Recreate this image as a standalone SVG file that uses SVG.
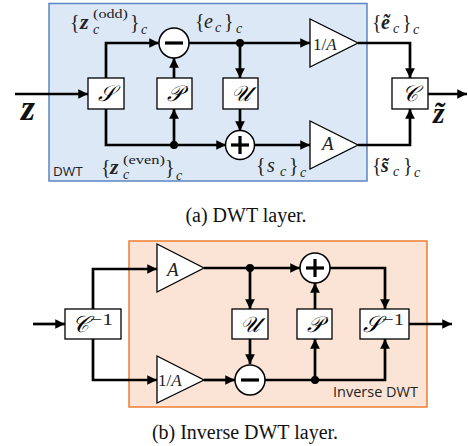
<svg xmlns="http://www.w3.org/2000/svg" width="468" height="446" viewBox="0 0 468 446">
<defs>
<marker id="ah" viewBox="0 0 10 10" refX="10" refY="5" markerWidth="3.6" markerHeight="3.6" orient="auto" markerUnits="strokeWidth">
<path d="M0,0 L10,5 L0,10 z" fill="#000"/>
</marker>
<style>
.w{fill:none;stroke:#000;stroke-width:2.7}
.a{marker-end:url(#ah)}
.box{fill:#fff;stroke:#000;stroke-width:1.3}
.tri{fill:#fff;stroke:#000;stroke-width:1.3}
.cir{fill:#fff;stroke:#000;stroke-width:1.5}
.bar{stroke:#000;stroke-width:3.2}
.dot{fill:#000}
.m{font-family:"Liberation Serif","DejaVu Serif",serif;fill:#222}
.L{font-size:20px}
.sm{font-size:14px}
.sp{font-size:13px}
.mi{font-style:italic}
.b{font-weight:bold;font-style:italic}
.cal{font-family:"DejaVu Serif","Liberation Serif",serif;font-style:italic;font-size:22px;text-anchor:middle}
.sans{font-family:"Open Sans","Liberation Sans",sans-serif;fill:#222}
.cap{font-family:"Liberation Serif",serif;font-size:20px;text-anchor:middle;fill:#111}
</style>
</defs>

<!-- panel backgrounds -->
<rect id="dwt-panel" x="49" y="3.5" width="318" height="177.5" fill="#dce8f5" stroke="#5a86c5" stroke-width="1.5"/>
<rect id="idwt-panel" x="129" y="241" width="298" height="166" fill="#fbe4d6" stroke="#ed7d31" stroke-width="1.5"/>

<g id="connectors">
<!-- top: DWT -->
<line class="w a" x1="15" y1="94" x2="88" y2="94"/>
<polyline class="w a" points="106,78 106,43 159,43"/>
<polyline class="w a" points="106,109 106,145 226,145"/>
<line class="w a" x1="174" y1="145" x2="174" y2="109"/>
<line class="w a" x1="174" y1="78" x2="174" y2="58"/>
<line class="w a" x1="189" y1="43" x2="310" y2="43"/>
<line class="w a" x1="240" y1="43" x2="240" y2="78"/>
<line class="w a" x1="240" y1="109" x2="240" y2="131"/>
<line class="w a" x1="254" y1="145" x2="310" y2="145"/>
<polyline class="w a" points="358,43 410,43 410,78"/>
<polyline class="w a" points="358,145 410,145 410,109"/>
<line class="w a" x1="428" y1="94" x2="467" y2="94"/>
<!-- bottom: inverse DWT -->
<line class="w a" x1="33" y1="324" x2="65" y2="324"/>
<polyline class="w a" points="93,309 93,269 157,269"/>
<polyline class="w a" points="93,339 93,380 157,380"/>
<line class="w a" x1="204" y1="268" x2="300" y2="268"/>
<line class="w a" x1="250" y1="268" x2="250" y2="309"/>
<line class="w a" x1="250" y1="339" x2="250" y2="364"/>
<line class="w a" x1="204" y1="380" x2="235" y2="380"/>
<polyline class="w a" points="265,380 385,380 385,339"/>
<line class="w a" x1="315" y1="380" x2="315" y2="339"/>
<line class="w a" x1="315" y1="309" x2="315" y2="283"/>
<polyline class="w a" points="330,268 385,268 385,309"/>
<line class="w a" x1="409" y1="324" x2="452" y2="324"/>
<circle class="dot" cx="174" cy="145" r="4"/>
<circle class="dot" cx="240" cy="43" r="4"/>
<circle class="dot" cx="250" cy="268" r="4"/>
<circle class="dot" cx="315" cy="380" r="4"/>
</g>

<!-- DWT nodes -->
<g id="node-S"><rect class="box" x="88" y="78" width="36" height="31"/><text class="cal" x="106" y="101">𝒮</text></g>
<g id="node-P"><rect class="box" x="157" y="78" width="35" height="31"/><text class="cal" x="174.5" y="101">𝒫</text></g>
<g id="node-U"><rect class="box" x="223" y="78" width="35" height="31"/><text class="cal" x="240.5" y="101">𝒰</text></g>
<g id="node-C"><rect class="box" x="392" y="78" width="36" height="31"/><text class="cal" x="410" y="101">𝒞</text></g>
<g id="node-minus1"><circle class="cir" cx="174" cy="43" r="15"/><line class="bar" x1="165" y1="43" x2="183" y2="43"/></g>
<g id="node-plus1"><circle class="cir" cx="240" cy="145" r="14.5"/><line class="bar" x1="231" y1="145" x2="249" y2="145"/><line class="bar" x1="240" y1="136" x2="240" y2="154"/></g>
<g id="node-invA"><polygon class="tri" points="310,19 310,67 358,43"/><text class="m" x="313" y="50" style="font-size:17px">1/<tspan font-style="italic">A</tspan></text></g>
<g id="node-A"><polygon class="tri" points="310,121 310,169 358,145"/><text class="m mi" x="322" y="150" style="font-size:19px">A</text></g>

<!-- DWT labels -->
<text class="m L" x="70" y="29">{<tspan class="b" x="80" style="font-size:22px">z</tspan></text>
<text class="m sp" x="93" y="17.5" textLength="35" lengthAdjust="spacingAndGlyphs">(odd)</text>
<text class="m mi sm" x="93" y="34">c</text>
<text class="m L" x="130" y="29">}</text>
<text class="m mi sm" x="141" y="34">c</text>

<text class="m L" x="195" y="28">{<tspan font-style="italic" x="204">e</tspan></text>
<text class="m mi sm" x="215" y="32">c</text>
<text class="m L" x="224" y="28">}</text>
<text class="m mi sm" x="236" y="33">c</text>

<text class="m L" x="101" y="174">{<tspan class="b" x="110" style="font-size:22px">z</tspan></text>
<text class="m sp" x="123" y="163.5" textLength="42" lengthAdjust="spacingAndGlyphs">(even)</text>
<text class="m mi sm" x="123" y="179">c</text>
<text class="m L" x="165" y="174">}</text>
<text class="m mi sm" x="176" y="180">c</text>

<text class="sans" x="53" y="176" style="font-size:13.5px">DWT</text>

<text class="m L" x="256" y="172">{<tspan font-style="italic" x="267">s</tspan></text>
<text class="m mi sm" x="280" y="176">c</text>
<text class="m L" x="289" y="172">}</text>
<text class="m mi sm" x="300" y="177">c</text>

<text class="m L" x="372" y="29">{<tspan class="b" x="381">ẽ</tspan></text>
<text class="m mi sm" x="393" y="33">c</text>
<text class="m L" x="402" y="29">}</text>
<text class="m mi sm" x="413" y="34">c</text>

<text class="m L" x="372" y="172">{<tspan class="b" x="381">s̃</tspan></text>
<text class="m mi sm" x="393" y="176">c</text>
<text class="m L" x="403" y="172">}</text>
<text class="m mi sm" x="414" y="177">c</text>

<text class="m b" x="21" y="120" style="font-size:36px;fill:#111">z</text>
<text class="m b" x="433" y="123" style="font-size:30px;fill:#111">z̃</text>

<text class="cap" x="246" y="222">(a) DWT layer.</text>

<!-- inverse DWT nodes -->
<g id="node-Cinv"><rect class="box" x="65" y="309" width="56" height="30"/><text class="cal" x="80" y="332" style="font-size:23px">𝒞</text><text class="m" x="90" y="325" style="font-size:16px" textLength="23" lengthAdjust="spacingAndGlyphs">−1</text></g>
<g id="node-A2"><polygon class="tri" points="157,244 157,292 204,268"/><text class="m mi" x="167" y="276" style="font-size:19px">A</text></g>
<g id="node-invA2"><polygon class="tri" points="157,356 157,403 204,380"/><text class="m" x="158" y="386" style="font-size:17px">1/<tspan font-style="italic">A</tspan></text></g>
<g id="node-U2"><rect class="box" x="232" y="309" width="36" height="30"/><text class="cal" x="250" y="332">𝒰</text></g>
<g id="node-P2"><rect class="box" x="297" y="309" width="35" height="30"/><text class="cal" x="314.5" y="332">𝒫</text></g>
<g id="node-Sinv"><rect class="box" x="360" y="309" width="49" height="30"/><text class="cal" x="372" y="332" style="font-size:23px">𝒮</text><text class="m" x="382" y="325" style="font-size:16px" textLength="22" lengthAdjust="spacingAndGlyphs">−1</text></g>
<g id="node-plus2"><circle class="cir" cx="315" cy="268" r="15"/><line class="bar" x1="306" y1="268" x2="324" y2="268"/><line class="bar" x1="315" y1="259" x2="315" y2="277"/></g>
<g id="node-minus2"><circle class="cir" cx="250" cy="380" r="15"/><line class="bar" x1="241" y1="380" x2="259" y2="380"/></g>

<text class="sans" x="333" y="397" style="font-size:14.5px">Inverse DWT</text>
<text class="cap" x="245" y="439">(b) Inverse DWT layer.</text>
</svg>
